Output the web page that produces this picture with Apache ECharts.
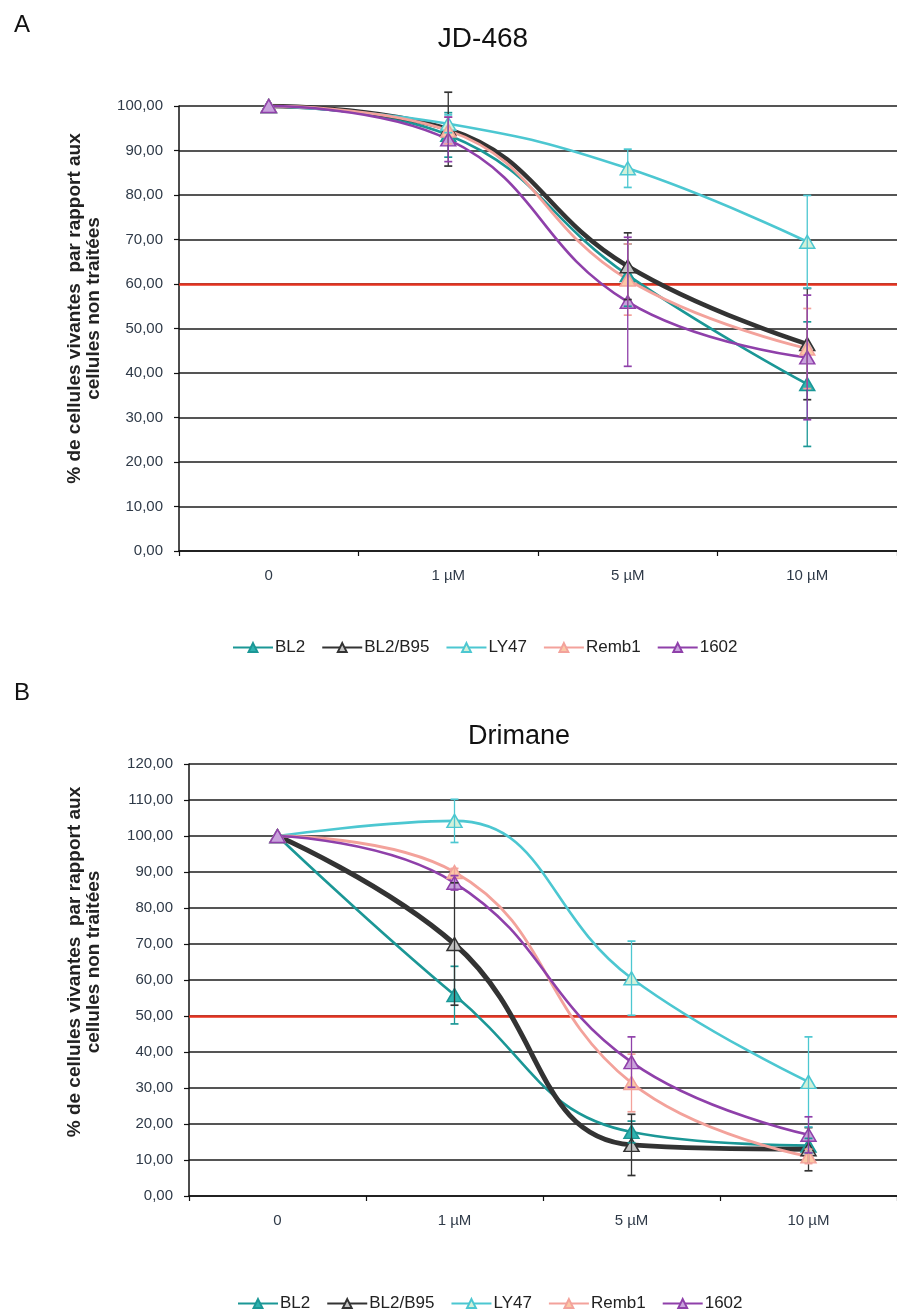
<!DOCTYPE html>
<html>
<head>
<meta charset="utf-8">
<script src="https://cdn.jsdelivr.net/npm/echarts@6/dist/echarts.min.js"></script>
<style>html,body{margin:0;padding:0;background:#fff}#c{width:897px;height:1314px}</style>
</head>
<body>
<div id="c"></div>
<script>
// ---- data ----
const categories = ['0', '1 µM', '5 µM', '10 µM'];
const seriesNames = ['BL2', 'BL2/B95', 'LY47', 'Remb1', '1602'];

// Chart A : JD-468
const jdBL2   = [100, 93.5, 62.0, 37.5];
const jdB95   = [100, 94.8, 64.0, 46.5];
const jdLY47  = [100, 96.0, 86.0, 69.5];
const jdRemb1 = [100, 94.5, 61.0, 45.5];
const jd1602  = [100, 92.5, 56.0, 43.5];
const jdBL2Err   = [0, 5, 7, 14];
const jdB95Err   = [0, 8.3, 7.5, 12.5];
const jdLY47Err  = [0, 2, 4.3, 10.4];
const jdRemb1Err = [0, 3, 8, 9];
const jd1602Err  = [0, 5, 14.5, 14];
const jdRefLine = 60;

// Chart B : Drimane
const drBL2   = [100, 55.8, 17.8, 14.0];
const drB95   = [100, 70.0, 14.2, 13.0];
const drLY47  = [100, 104.2, 60.5, 31.7];
const drRemb1 = [100, 90.0, 31.4, 11.0];
const dr1602  = [100, 87.0, 37.2, 17.0];
const drBL2Err   = [0, 8, 3, 2];
const drB95Err   = [0, 17, 8.5, 6];
const drLY47Err  = [0, 6, 10.3, 12.5];
const drRemb1Err = [0, 1, 8, 2];
const dr1602Err  = [0, 2, 7, 5];
const drRefLine = 50;

// ---- styles ----
const FONT = "'Liberation Sans', Arial, sans-serif";
const styles = {
  'BL2':     {line: '#1b9796', fill: '#2fb3b0', width: 2.6},
  'BL2/B95': {line: '#333333', fill: '#c4c4c4', width: 4.5},
  'LY47':    {line: '#4cc7d1', fill: '#d3f0d9', width: 2.6},
  'Remb1':   {line: '#f3a29b', fill: '#fbc8a6', width: 2.8},
  '1602':    {line: '#8f40aa', fill: '#c8a2dc', width: 2.6}
};

function lineSeries(name, vals, idx, ref) {
  const s = styles[name];
  const o = {
    name: name, type: 'line', xAxisIndex: idx, yAxisIndex: idx,
    data: vals, smooth: 0.45,
    symbol: 'triangle', symbolSize: [15, 13],
    lineStyle: {color: s.line, width: s.width},
    itemStyle: {color: s.fill, borderColor: s.line, borderWidth: 1.5},
    z: 3
  };
  if (ref !== undefined) {
    o.markLine = {
      silent: true, symbol: 'none', label: {show: false},
      lineStyle: {color: '#e5321f', width: 2.5, type: 'solid'},
      data: [{yAxis: ref}], z: 2
    };
  }
  return o;
}

function errSeries(name, vals, errs, idx) {
  const color = styles[name].line;
  const data = [];
  vals.forEach((v, i) => { if (errs[i] > 0) data.push([i, v - errs[i], v + errs[i]]); });
  return {
    name: name + ' err', type: 'custom', xAxisIndex: idx, yAxisIndex: idx,
    data: data, encode: {x: 0, y: [1, 2]}, z: 4, silent: true,
    renderItem: function (params, api) {
      const x = api.value(0);
      const p1 = api.coord([x, api.value(2)]);
      const p2 = api.coord([x, api.value(1)]);
      const w = 4;
      return {type: 'group', children: [
        {type: 'line', shape: {x1: p1[0], y1: p1[1], x2: p2[0], y2: p2[1]}, style: {stroke: color, lineWidth: 1.3}},
        {type: 'line', shape: {x1: p1[0] - w, y1: p1[1], x2: p1[0] + w, y2: p1[1]}, style: {stroke: color, lineWidth: 1.7}},
        {type: 'line', shape: {x1: p2[0] - w, y1: p2[1], x2: p2[0] + w, y2: p2[1]}, style: {stroke: color, lineWidth: 1.7}}
      ]};
    }
  };
}

const fmt = v => v.toFixed(2).replace('.', ',');
const yName = '% de cellules vivantes  par rapport aux\ncellules non traitées';

function yAxis(idx, max, gap, pad) {
  return {
    type: 'value', gridIndex: idx, min: 0, max: max, interval: 10,
    name: yName, nameLocation: 'middle', nameGap: gap, nameRotate: 90,
    nameTextStyle: {fontFamily: FONT, fontSize: 19, fontWeight: 'bold', color: '#222', lineHeight: 19, padding: [0, 0, 0, pad]},
    axisLine: {show: true, lineStyle: {color: '#111', width: 1.5}},
    axisTick: {show: true, length: 5, inside: false, lineStyle: {color: '#111', width: 1.2}},
    axisLabel: {fontFamily: FONT, fontSize: 15, color: '#2f3a48', margin: 16, formatter: fmt},
    splitLine: {show: true, lineStyle: {color: '#1c1c1c', width: 1.6}}
  };
}
function xAxis(idx) {
  return {
    type: 'category', gridIndex: idx, data: categories, boundaryGap: true,
    axisLine: {show: true, onZero: false, lineStyle: {color: '#111', width: 1.5}},
    axisTick: {show: true, interval: 0, length: 5, alignWithLabel: false, lineStyle: {color: '#111', width: 1.2}},
    axisLabel: {fontFamily: FONT, fontSize: 15, color: '#2f3a48', margin: 17, interval: 0},
    splitLine: {show: false}
  };
}

const legendBase = {
  data: seriesNames, orient: 'horizontal', itemWidth: 40, itemHeight: 11, itemGap: 16,
  textStyle: {fontFamily: FONT, fontSize: 17, color: '#222', padding: [0, 0, 0, -3]},
  selectedMode: false
};

const series = [
  lineSeries('BL2', jdBL2, 0, jdRefLine),
  lineSeries('BL2/B95', jdB95, 0),
  lineSeries('LY47', jdLY47, 0),
  lineSeries('Remb1', jdRemb1, 0),
  lineSeries('1602', jd1602, 0),
  errSeries('BL2', jdBL2, jdBL2Err, 0),
  errSeries('BL2/B95', jdB95, jdB95Err, 0),
  errSeries('LY47', jdLY47, jdLY47Err, 0),
  errSeries('Remb1', jdRemb1, jdRemb1Err, 0),
  errSeries('1602', jd1602, jd1602Err, 0),
  lineSeries('BL2', drBL2, 1, drRefLine),
  lineSeries('BL2/B95', drB95, 1),
  lineSeries('LY47', drLY47, 1),
  lineSeries('Remb1', drRemb1, 1),
  lineSeries('1602', dr1602, 1),
  errSeries('BL2', drBL2, drBL2Err, 1),
  errSeries('BL2/B95', drB95, drB95Err, 1),
  errSeries('LY47', drLY47, drLY47Err, 1),
  errSeries('Remb1', drRemb1, drRemb1Err, 1),
  errSeries('1602', dr1602, dr1602Err, 1)
];
series[11].lineStyle.width = 5;

const chart = echarts.init(document.getElementById('c'), null, {renderer: 'canvas'});
chart.setOption({
  backgroundColor: '#ffffff',
  animation: false,
  title: [
    {text: 'A', left: 9, top: 8, textStyle: {fontFamily: FONT, fontSize: 24, fontWeight: 'normal', color: '#111'}},
    {text: 'JD-468', left: 478, top: 20, textAlign: 'center', textStyle: {fontFamily: FONT, fontSize: 28, fontWeight: 'normal', color: '#111'}},
    {text: 'B', left: 9, top: 676, textStyle: {fontFamily: FONT, fontSize: 24, fontWeight: 'normal', color: '#111'}},
    {text: 'Drimane', left: 514, top: 718, textAlign: 'center', textStyle: {fontFamily: FONT, fontSize: 27, fontWeight: 'normal', color: '#111'}}
  ],
  legend: [
    Object.assign({}, legendBase, {left: 227, top: 634}),
    Object.assign({}, legendBase, {left: 232, top: 1290})
  ],
  grid: [
    {left: 179, top: 106, height: 445, right: -2, containLabel: false},
    {left: 189, top: 764, height: 432, right: -4, containLabel: false}
  ],
  xAxis: [xAxis(0), xAxis(1)],
  yAxis: [yAxis(0, 100, 76, 40), yAxis(1, 120, 86, 36)],
  series: series
});
</script>
</body>
</html>
